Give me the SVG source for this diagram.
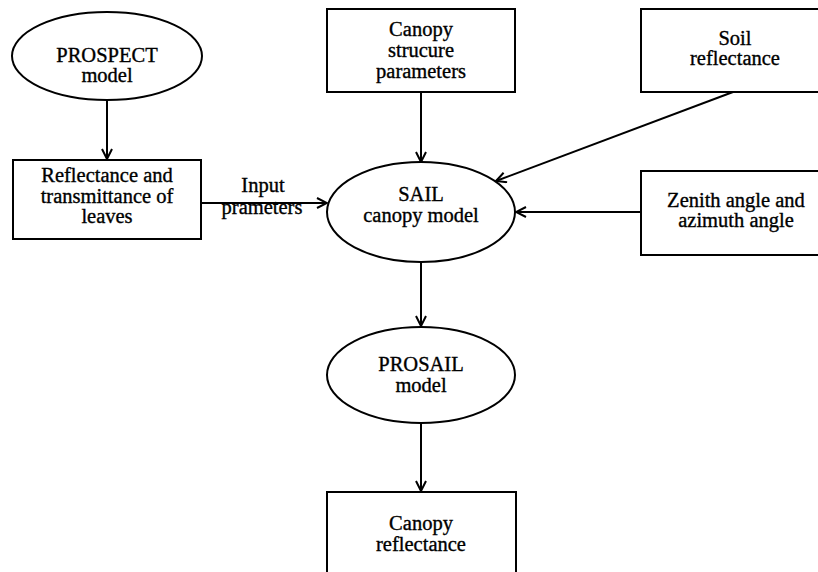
<svg xmlns="http://www.w3.org/2000/svg" width="818" height="572" viewBox="0 0 818 572">
<defs>
<style>
.n{fill:#fff;stroke:#000;stroke-width:2}
.t{font-family:"Liberation Serif","Times New Roman",serif;font-size:20.5px;text-anchor:middle;fill:#000;stroke:#000;stroke-width:0.35}
.c{stroke:#000;stroke-width:2;fill:none}
</style>
<marker id="a" viewBox="0 0 12 12" refX="11" refY="6" markerWidth="12" markerHeight="12" markerUnits="userSpaceOnUse" orient="auto">
<path d="M1,1 L11,6 L1,11" fill="none" stroke="#000" stroke-width="2"/>
</marker>
</defs>
<rect width="818" height="572" fill="#fff"/>
<g id="connectors">
<line class="c" x1="107" y1="100" x2="107" y2="159" marker-end="url(#a)"/>
<line class="c" x1="201" y1="203" x2="327" y2="203" marker-end="url(#a)"/>
<line class="c" x1="421" y1="92" x2="421" y2="162" marker-end="url(#a)"/>
<line class="c" x1="733" y1="92" x2="496" y2="181" marker-end="url(#a)"/>
<line class="c" x1="641" y1="212" x2="516" y2="212" marker-end="url(#a)"/>
<line class="c" x1="421" y1="262" x2="421" y2="326" marker-end="url(#a)"/>
<line class="c" x1="421" y1="423" x2="421" y2="491" marker-end="url(#a)"/>
<text class="t" x="263" y="192">Input</text>
<text class="t" x="262" y="214">prameters</text>
</g>
<g id="prospect">
<ellipse class="n" cx="107" cy="56" rx="95" ry="44"/>
<text class="t" x="107" y="62">PROSPECT</text>
<text class="t" x="107" y="82">model</text>
</g>
<g id="leaves">
<rect class="n" x="13" y="160" width="188" height="79"/>
<text class="t" x="107" y="182">Reflectance and</text>
<text class="t" x="107" y="203">transmittance of</text>
<text class="t" x="107" y="223">leaves</text>
</g>
<g id="canopy-structure">
<rect class="n" x="327" y="9" width="188" height="83"/>
<text class="t" x="421" y="36">Canopy</text>
<text class="t" x="421" y="57">strucure</text>
<text class="t" x="421" y="78">parameters</text>
</g>
<g id="soil">
<rect class="n" x="641" y="9" width="190" height="83"/>
<text class="t" x="735" y="45">Soil</text>
<text class="t" x="735" y="65">reflectance</text>
</g>
<g id="sail">
<ellipse class="n" cx="421" cy="212" rx="94" ry="50"/>
<text class="t" x="421" y="201">SAIL</text>
<text class="t" x="421" y="222">canopy model</text>
</g>
<g id="zenith">
<rect class="n" x="641" y="171" width="190" height="84"/>
<text class="t" x="736" y="207">Zenith angle and</text>
<text class="t" x="736" y="227">azimuth angle</text>
</g>
<g id="prosail">
<ellipse class="n" cx="421" cy="375" rx="94" ry="48"/>
<text class="t" x="421" y="371">PROSAIL</text>
<text class="t" x="421" y="392">model</text>
</g>
<g id="canopy-reflectance">
<rect class="n" x="327" y="492" width="189" height="90"/>
<text class="t" x="421" y="530">Canopy</text>
<text class="t" x="421" y="551">reflectance</text>
</g>
</svg>
